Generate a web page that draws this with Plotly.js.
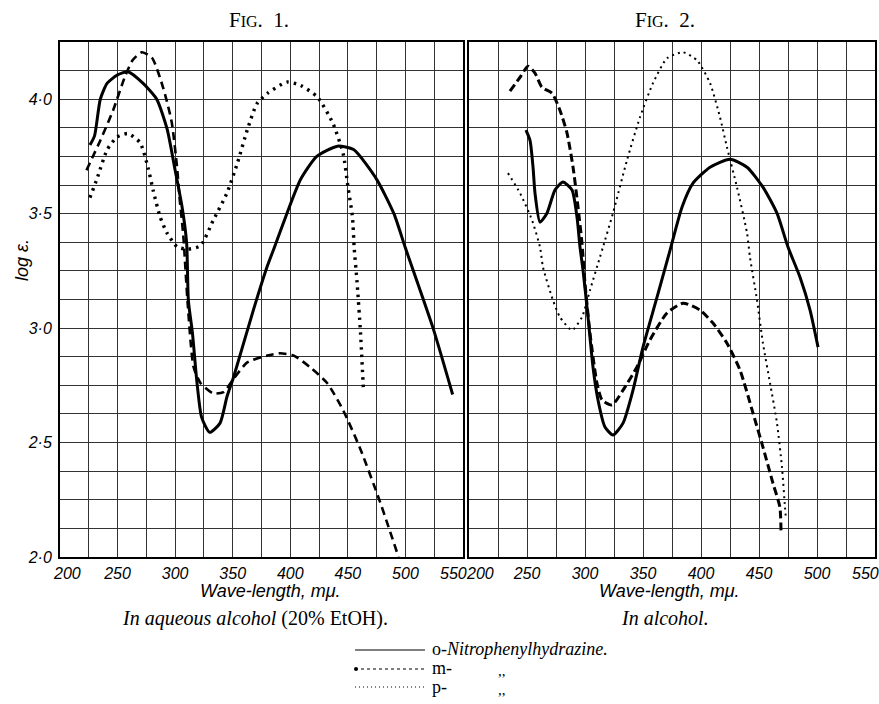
<!DOCTYPE html>
<html>
<head>
<meta charset="utf-8">
<script src="https://cdn.plot.ly/plotly-3.0.1.min.js"></script>
<style>html,body{margin:0;padding:0;background:#fff;}#chart{width:879px;height:704px;}</style>
</head>
<body>
<div id="chart"></div>
<script>
// ---- Data ----
// Fig. 1 : in aqueous alcohol (20% EtOH)
const fig1_o_x = [226, 230, 235, 241, 249.6, 259, 272, 284, 293, 300, 306, 310, 311.5, 315, 319, 323, 330, 339, 345, 351, 368, 380, 386, 397, 409, 423, 441, 455, 475, 490, 500, 524, 541];
const fig1_o_y = [3.80, 3.84, 4.00, 4.07, 4.105, 4.12, 4.07, 4.00, 3.87, 3.69, 3.53, 3.37, 3.12, 2.98, 2.76, 2.61, 2.545, 2.585, 2.70, 2.79, 3.08, 3.27, 3.35, 3.50, 3.65, 3.75, 3.795, 3.78, 3.65, 3.50, 3.35, 3.00, 2.71];

const fig1_m_x = [223, 235, 246, 256.5, 263, 271, 280, 289.6, 297, 301.7, 304, 307, 311, 316, 322, 333, 342, 351, 362.6, 380, 391, 403, 417, 432, 446, 461, 478, 494];
const fig1_m_y = [3.69, 3.82, 3.95, 4.10, 4.17, 4.205, 4.18, 4.05, 3.90, 3.70, 3.56, 3.41, 3.10, 2.83, 2.76, 2.715, 2.72, 2.78, 2.85, 2.88, 2.89, 2.88, 2.83, 2.76, 2.64, 2.47, 2.24, 2.00];

const fig1_p_x = [226, 232, 241, 249.6, 259, 269.6, 276.5, 281, 287, 293, 301.7, 311, 322, 333, 345, 354, 362.6, 371, 380, 397, 409, 423.5, 437, 446, 450, 454, 455.5, 458, 461, 463.5];
const fig1_p_y = [3.57, 3.65, 3.78, 3.835, 3.85, 3.81, 3.70, 3.60, 3.485, 3.415, 3.355, 3.345, 3.36, 3.47, 3.59, 3.72, 3.865, 3.98, 4.025, 4.075, 4.06, 4.01, 3.895, 3.76, 3.62, 3.485, 3.35, 3.20, 2.98, 2.73];

// Fig. 2 : in alcohol
const fig2_o_x = [249.1, 252.6, 255.2, 256.9, 261.2, 267.2, 274.1, 281, 288.8, 293.1, 295.7, 298.3, 302.6, 306.9, 311.2, 317.2, 324.1, 332.8, 341.4, 350, 362.1, 373.3, 383.6, 393.1, 407.8, 425, 439.7, 453.4, 465.5, 475, 485.3, 494, 500.9];
const fig2_o_y = [3.865, 3.82, 3.703, 3.59, 3.463, 3.502, 3.603, 3.638, 3.603, 3.485, 3.354, 3.253, 3.048, 2.83, 2.686, 2.568, 2.533, 2.585, 2.729, 2.917, 3.135, 3.34, 3.528, 3.633, 3.703, 3.738, 3.703, 3.616, 3.502, 3.354, 3.223, 3.079, 2.917];

const fig2_m_x = [235.3, 244, 250.9, 256.9, 262.9, 271.6, 278.4, 284.5, 289.7, 294, 297.4, 300, 304.3, 310.3, 314.7, 323.3, 332.8, 344.8, 356, 370.7, 384.5, 399.1, 410.3, 422.4, 433.6, 444.8, 453.4, 462, 468, 469];
const fig2_m_y = [4.035, 4.096, 4.144, 4.114, 4.052, 4.026, 3.952, 3.852, 3.703, 3.528, 3.371, 3.196, 2.978, 2.76, 2.686, 2.664, 2.729, 2.83, 2.948, 3.066, 3.109, 3.079, 3.022, 2.934, 2.817, 2.629, 2.48, 2.323, 2.218, 2.105];

const fig2_p_x = [233.6, 244, 254.3, 261.2, 263.8, 272.4, 278.4, 288.8, 297.4, 304.3, 312.9, 315.5, 324.1, 336.2, 347.4, 358.6, 370.7, 384.5, 396.6, 407.8, 416.4, 422.4, 431, 439.7, 442.2, 448.3, 453.4, 459.5, 465.5, 469.8, 472.4, 473.3];
const fig2_p_y = [3.677, 3.59, 3.472, 3.354, 3.266, 3.122, 3.048, 2.991, 3.048, 3.166, 3.31, 3.354, 3.502, 3.734, 3.921, 4.07, 4.179, 4.205, 4.17, 4.07, 3.921, 3.79, 3.616, 3.415, 3.31, 3.122, 2.934, 2.76, 2.585, 2.393, 2.218, 2.162];

// ticks and labels
const xTickVals = [200, 250, 300, 350, 400, 450, 500, 550];
const xTickText = ["200", "250", "300", "350", "400", "450", "500", "550"];
const yTickVals = [2.0, 2.5, 3.0, 3.5, 4.0];
const yTickText = ["2·0", "2·5", "3·0", "3·5", "4·0"];

const panelTitles = ["F<span style=\"font-size:16px\">IG</span>.\u00a0 1.", "F<span style=\"font-size:16px\">IG</span>.\u00a0 2."];
const panelSubtitles = ["<i>In aqueous alcohol</i> (20% EtOH).", "<i>In alcohol.</i>"];
const xTitle = "Wave-length, mμ.";
const yTitle = "log ε.";
const legendNames = ["o-<i>Nitrophenylhydrazine.</i>", "m-", "p-"];
const dittoMark = ",,";

// ---- Styles ----
const W = 879, H = 704;
const px = v => v / W;
const py = v => 1 - v / H;

const solidLine = {color: '#000', width: 3};
const dashLine1 = {color: '#000', width: 2.6, dash: '8px,5px'};
const dotLine1 = {color: '#000', width: 3.4, dash: '2.5px,5px'};
const dashLine2 = {color: '#000', width: 3, dash: '8px,4px'};
const dotLine2 = {color: '#000', width: 2, dash: '2px,4px'};

function tr(x, y, line, xa, ya) {
  return {x: x, y: y, type: 'scatter', mode: 'lines', xaxis: xa, yaxis: ya,
          line: Object.assign({shape: 'spline', smoothing: 0.6}, line),
          showlegend: false, hoverinfo: 'skip'};
}

const data = [
  tr(fig1_o_x, fig1_o_y, solidLine, 'x', 'y'),
  tr(fig1_m_x, fig1_m_y, dashLine1, 'x', 'y'),
  tr(fig1_p_x, fig1_p_y, dotLine1, 'x', 'y'),
  tr(fig2_o_x, fig2_o_y, solidLine, 'x2', 'y2'),
  tr(fig2_m_x, fig2_m_y, dashLine2, 'x2', 'y2'),
  tr(fig2_p_x, fig2_p_y, dotLine2, 'x2', 'y2')
];

const tickFont = {family: 'Liberation Sans, Arial, sans-serif', size: 16, style: 'italic', color: '#000'};
const gridCol = '#333';

// inner labels come from the axis; the two edge labels of each axis are
// placed as text nudged inward, as in the hand-lettered original
const innerText = xTickText.map((t, i) => (i === 0 || i === xTickText.length - 1) ? '' : t);

function xAxis(domain, anchor) {
  return {
    domain: domain, anchor: anchor, range: [200, 550],
    tickmode: 'array', tickvals: xTickVals, ticktext: innerText,
    ticks: '', tickfont: tickFont, ticklabelstandoff: 1,
    showgrid: true, gridcolor: gridCol, gridwidth: 1,
    minor: {tickmode: 'linear', tick0: 200, dtick: 25, showgrid: true, gridcolor: gridCol, gridwidth: 1, ticks: ''},
    showline: true, mirror: true, linecolor: '#000', linewidth: 2,
    zeroline: false, fixedrange: true
  };
}
function yAxis(anchor, labels) {
  return {
    domain: [py(557), py(42)], anchor: anchor, range: [2.0, 4.25],
    tickmode: 'array', tickvals: yTickVals, ticktext: yTickText,
    ticks: '', tickfont: tickFont, showticklabels: labels, ticklabelstandoff: 3,
    showgrid: true, gridcolor: gridCol, gridwidth: 1,
    minor: {tickmode: 'linear', tick0: 2.0, dtick: 0.125, showgrid: true, gridcolor: gridCol, gridwidth: 1, ticks: ''},
    showline: true, mirror: true, linecolor: '#000', linewidth: 2,
    zeroline: false, fixedrange: true
  };
}

const serif = 'Liberation Serif, Times New Roman, serif';
const hand = 'Liberation Sans, Arial, sans-serif';

function ann(text, x, y, font, extra) {
  return Object.assign({text: text, x: px(x), y: py(y), xref: 'paper', yref: 'paper',
    xanchor: 'center', yanchor: 'middle', showarrow: false, font: font}, extra || {});
}
function edgeLabel(text, xaxisName, val, shift) {
  return {text: text, x: val, xref: xaxisName, y: py(573), yref: 'paper',
          xanchor: 'center', yanchor: 'middle', xshift: shift, showarrow: false, font: tickFont};
}
const lastIdx = xTickText.length - 1;

const annotations = [
  ann(panelTitles[0], 259, 20, {family: serif, size: 21, color: '#000'}),
  ann(panelTitles[1], 665, 20, {family: serif, size: 21, color: '#000'}),
  ann(yTitle, 22, 260, {family: hand, size: 18, style: 'italic', color: '#000'}, {textangle: -90}),
  ann(xTitle, 270, 591, {family: hand, size: 18, style: 'italic', color: '#000'}),
  ann(xTitle, 669, 591, {family: hand, size: 18, style: 'italic', color: '#000'}),
  ann(panelSubtitles[0], 255, 618, {family: serif, size: 20, color: '#000'}),
  ann(panelSubtitles[1], 665, 618, {family: serif, size: 20, color: '#000'}),
  ann(legendNames[0], 430, 649, {family: serif, size: 18, color: '#000'}, {xanchor: 'left'}),
  ann(legendNames[1], 430, 668, {family: serif, size: 18, color: '#000'}, {xanchor: 'left'}),
  ann(legendNames[2], 430, 687, {family: serif, size: 18, color: '#000'}, {xanchor: 'left'}),
  ann(dittoMark, 502, 671, {family: serif, size: 15, color: '#000'}),
  ann(dittoMark, 502, 690, {family: serif, size: 15, color: '#000'}),
  edgeLabel(xTickText[0], 'x', xTickVals[0], 7),
  edgeLabel(xTickText[lastIdx], 'x', xTickVals[lastIdx], -10),
  edgeLabel(xTickText[0], 'x2', xTickVals[0], 11),
  edgeLabel(xTickText[lastIdx], 'x2', xTickVals[lastIdx], -10)
];

function legLine(y, dash, w) {
  return {type: 'line', xref: 'paper', yref: 'paper', x0: px(355), x1: px(425), y0: py(y), y1: py(y),
          line: {color: '#000', width: w, dash: dash}};
}
const shapes = [
  legLine(650, 'solid', 1),
  legLine(669, '3px,3px', 1.2),
  {type: 'circle', xref: 'paper', yref: 'paper', x0: px(354), x1: px(358), y0: py(671), y1: py(667),
   fillcolor: '#000', line: {width: 0}},
  legLine(687, '1px,3px', 1.2)
];

const layout = {
  width: W, height: H,
  margin: {l: 0, r: 0, t: 0, b: 0},
  paper_bgcolor: '#fff', plot_bgcolor: '#fff',
  xaxis: xAxis([px(60), px(463)], 'y'),
  yaxis: yAxis('x', true),
  xaxis2: xAxis([px(469), px(875)], 'y2'),
  yaxis2: yAxis('x2', false),
  annotations: annotations,
  shapes: shapes,
  showlegend: false
};

Plotly.newPlot('chart', data, layout, {displayModeBar: false, staticPlot: true});
</script>
</body>
</html>
